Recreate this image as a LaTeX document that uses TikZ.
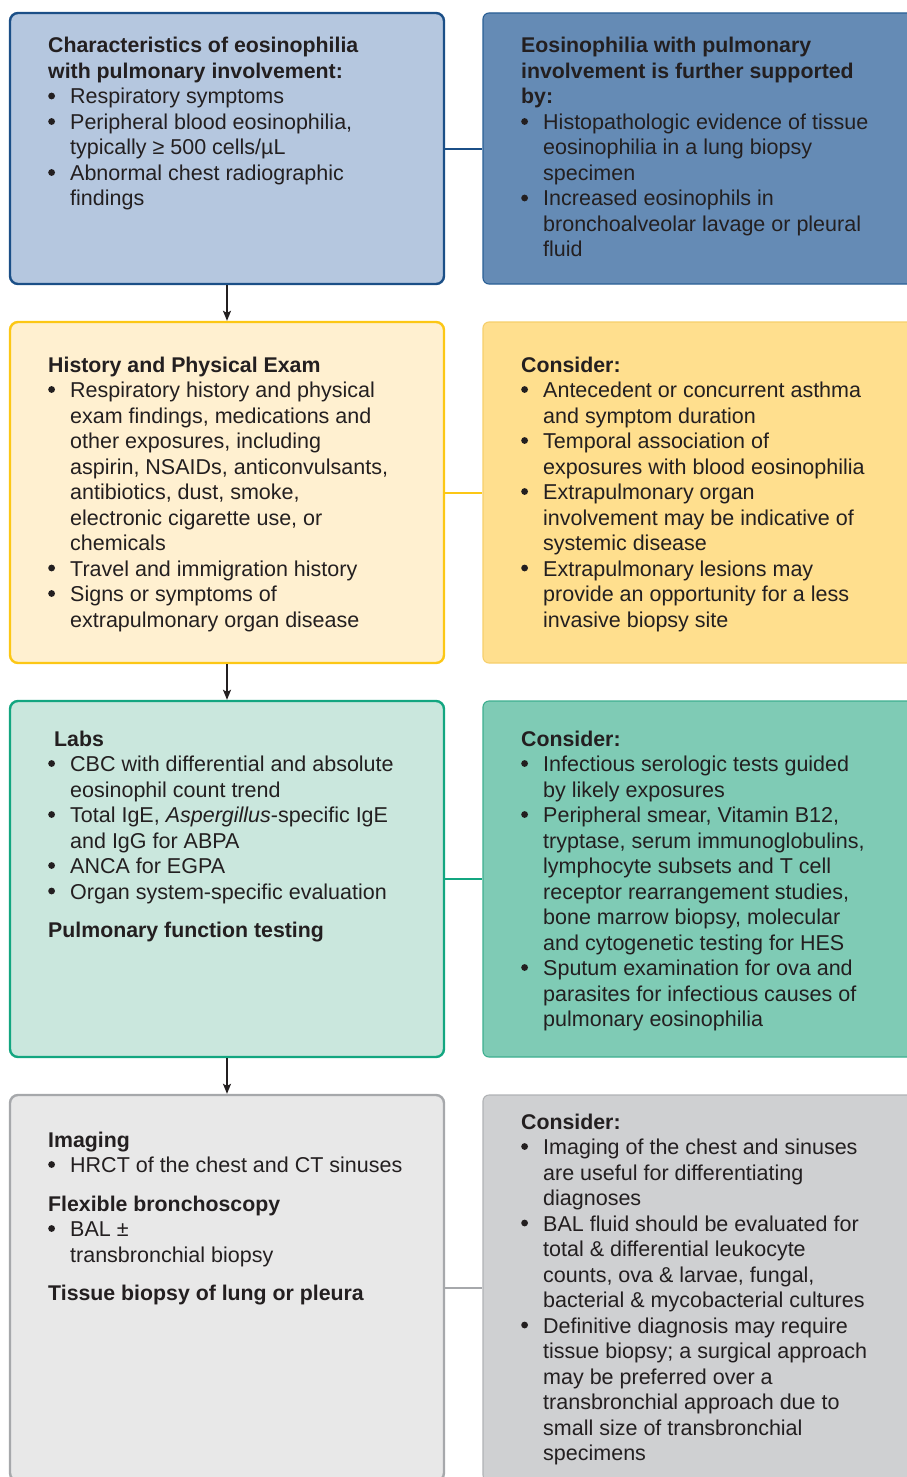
\documentclass[tikz,border=0pt]{standalone}
\usepackage{fontspec}
\setmainfont{Liberation Sans}
\usetikzlibrary{arrows.meta}

% palette
\definecolor{ink}{HTML}{231F20}
\definecolor{blueEdge}{HTML}{1B4F87}
\definecolor{blueFill}{HTML}{B5C7DF}
\definecolor{blueDeep}{HTML}{658BB5}
\definecolor{blueThin}{HTML}{2A5F95}
\definecolor{yelEdge}{HTML}{FCC715}
\definecolor{yelFill}{HTML}{FFF0D0}
\definecolor{yelDeep}{HTML}{FFDF8E}
\definecolor{yelThin}{HTML}{F6CF6C}
\definecolor{grnEdge}{HTML}{13A680}
\definecolor{grnFill}{HTML}{CAE7DD}
\definecolor{grnDeep}{HTML}{7FCBB5}
\definecolor{grnThin}{HTML}{3DAF8F}
\definecolor{gryEdge}{HTML}{A6A8AB}
\definecolor{gryFill}{HTML}{E8E8E8}
\definecolor{gryDeep}{HTML}{CFD0D2}
\definecolor{gryThin}{HTML}{B0B2B5}

% text block helpers
\newcommand{\bodyfont}{\fontsize{21.5}{25.5}\selectfont}
\newcommand{\hd}[1]{\multicolumn{2}{@{}l@{}}{\fontsize{21.3}{25.5}\selectfont\bfseries #1}}
% round list marker, drawn as a small filled disc sitting at mid x-height
\newcommand{\bu}{\tikz[baseline=0pt]\fill[ink] (4.5pt,8pt) circle[radius=3.4pt];}
\newenvironment{blk}{\begin{tabular}[t]{@{}p{22pt}@{}l@{}}}{\end{tabular}}

\tikzset{
  mainbox/.style={draw, line width=2.4pt, rounded corners=8pt,
    minimum width=434pt, inner sep=0pt},
  sidebox/.style={draw, line width=1.1pt, rounded corners=6pt,
    minimum width=434pt, inner sep=0pt},
  txt/.style={anchor=base west, inner sep=0pt, text=ink, font=\bodyfont},
  flow/.style={draw=ink, line width=1.3pt,
    -{Stealth[length=10pt, width=8pt, inset=2pt]}},
  link/.style={line width=2pt}
}

\begin{document}
\begin{tikzpicture}[x=1pt, y=-1pt]
\useasboundingbox (0,0) rectangle (907,1477);

% ---- boxes ----
\node[mainbox, draw=blueEdge, fill=blueFill, minimum height=271pt] (b1l) at (227,148.5) {};
\node[sidebox, draw=blueThin, fill=blueDeep, minimum height=271pt] (b1r) at (700,148.5) {};
\node[mainbox, draw=yelEdge, fill=yelFill, minimum height=341pt] (b2l) at (227,492.5) {};
\node[sidebox, draw=yelThin, fill=yelDeep, minimum height=341pt] (b2r) at (700,492.5) {};
\node[mainbox, draw=grnEdge, fill=grnFill, minimum height=356pt] (b3l) at (227,879) {};
\node[sidebox, draw=grnThin, fill=grnDeep, minimum height=356pt] (b3r) at (700,879) {};
\node[mainbox, draw=gryEdge, fill=gryFill, minimum height=386pt] (b4l) at (227,1288) {};
\node[sidebox, draw=gryThin, fill=gryDeep, minimum height=386pt] (b4r) at (700,1288) {};

% ---- connectors ----
\draw[link, blueEdge] (b1l.east) -- (b1r.west);
\draw[link, yelEdge] (b2l.east) -- (b2r.west);
\draw[link, grnEdge] (b3l.east) -- (b3r.west);
\draw[link, gryEdge] (b4l.east) -- (b4r.west);
\draw[flow] (b1l.south) -- (b2l.north);
\draw[flow] (b2l.south) -- (b3l.north);
\draw[flow] (b3l.south) -- (b4l.north);

% ---- texts ----
\node[txt] (t1l) at (48,53) {\begin{blk}
\hd{Characteristics of eosinophilia}\\
\hd{with pulmonary involvement:}\\
\bu & Respiratory symptoms\\
\bu & Peripheral blood eosinophilia,\\
    & typically ≥ 500 cells/µL\\
\bu & Abnormal chest radiographic\\
    & findings
\end{blk}};

\node[txt] (t1r) at (521,53) {\begin{blk}
\hd{Eosinophilia with pulmonary}\\
\hd{involvement is further supported}\\
\hd{by:}\\
\bu & Histopathologic evidence of tissue\\
    & eosinophilia in a lung biopsy\\
    & specimen\\
\bu & Increased eosinophils in\\
    & bronchoalveolar lavage or pleural\\
    & fluid
\end{blk}};

\node[txt] (t2l) at (48,372) {\begin{blk}
\hd{History and Physical Exam}\\
\bu & Respiratory history and physical\\
    & exam findings, medications and\\
    & other exposures, including\\
    & aspirin, NSAIDs, anticonvulsants,\\
    & antibiotics, dust, smoke,\\
    & electronic cigarette use, or\\
    & chemicals\\
\bu & Travel and immigration history\\
\bu & Signs or symptoms of\\
    & extrapulmonary organ disease
\end{blk}};

\node[txt] (t2r) at (521,372) {\begin{blk}
\hd{Consider:}\\
\bu & Antecedent or concurrent asthma\\
    & and symptom duration\\
\bu & Temporal association of\\
    & exposures with blood eosinophilia\\
\bu & Extrapulmonary organ\\
    & involvement may be indicative of\\
    & systemic disease\\
\bu & Extrapulmonary lesions may\\
    & provide an opportunity for a less\\
    & invasive biopsy site
\end{blk}};

\node[txt] (t3l) at (48,746) {\begin{blk}
\hd{\hspace*{6pt}Labs}\\
\bu & CBC with differential and absolute\\
    & eosinophil count trend\\
\bu & Total IgE, \textit{Aspergillus}-specific IgE\\
    & and IgG for ABPA\\
\bu & ANCA for EGPA\\
\bu & Organ system-specific evaluation\\[13pt]
\hd{Pulmonary function testing}
\end{blk}};

\node[txt] (t3r) at (521,746) {\begin{blk}
\hd{Consider:}\\
\bu & Infectious serologic tests guided\\
    & by likely exposures\\
\bu & Peripheral smear, Vitamin B12,\\
    & tryptase, serum immunoglobulins,\\
    & lymphocyte subsets and T cell\\
    & receptor rearrangement studies,\\
    & bone marrow biopsy, molecular\\
    & and cytogenetic testing for HES\\
\bu & Sputum examination for ova and\\
    & parasites for infectious causes of\\
    & pulmonary eosinophilia
\end{blk}};

\node[txt] (t4l) at (48,1147) {\begin{blk}
\hd{Imaging}\\
\bu & HRCT of the chest and CT sinuses\\[13pt]
\hd{Flexible bronchoscopy}\\
\bu & BAL ±\\
    & transbronchial biopsy\\[13pt]
\hd{Tissue biopsy of lung or pleura}
\end{blk}};

\node[txt] (t4r) at (521,1129) {\begin{blk}
\hd{Consider:}\\
\bu & Imaging of the chest and sinuses\\
    & are useful for differentiating\\
    & diagnoses\\
\bu & BAL fluid should be evaluated for\\
    & total \& differential leukocyte\\
    & counts, ova \& larvae, fungal,\\
    & bacterial \& mycobacterial cultures\\
\bu & Definitive diagnosis may require\\
    & tissue biopsy; a surgical approach\\
    & may be preferred over a\\
    & transbronchial approach due to\\
    & small size of transbronchial\\
    & specimens
\end{blk}};
\end{tikzpicture}
\end{document}
